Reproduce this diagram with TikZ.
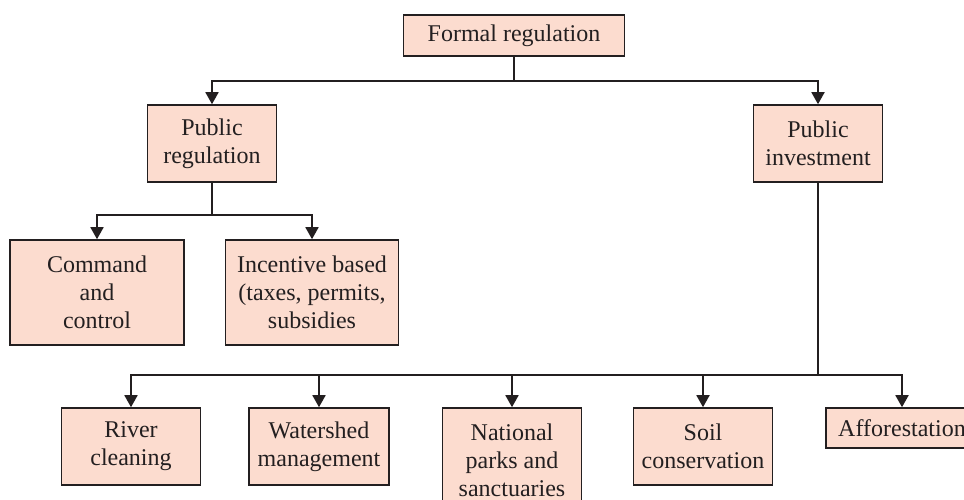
\documentclass[tikz,border=0pt]{standalone}
\usepackage{fontspec}
\setmainfont{Liberation Serif}
\usetikzlibrary{arrows.meta}
\definecolor{boxfill}{RGB}{252,220,207}
\definecolor{inkgray}{RGB}{35,31,32}

\begin{document}
\begin{tikzpicture}[x=1pt,y=-1pt,
    box/.style={draw=inkgray,fill=boxfill,line width=1.6pt,inner sep=0pt,
        align=center,text=inkgray,font=\fontsize{24}{28}\selectfont},
    link/.style={draw=inkgray,line width=1.8pt,-{Triangle[width=13pt,length=12pt]}}]
    \useasboundingbox (0,0) rectangle (964,500);

    % top level
    \node[box,minimum width=221,minimum height=41] (formal) at (514,35.5) {Formal regulation};
    \node[box,minimum width=129,minimum height=77] (pubreg) at (212,143.5) {Public\\regulation};
    \node[box,minimum width=129,minimum height=77] (pubinv) at (818,143.5) {Public\\investment};

    % regulation branch
    \node[box,minimum width=174,minimum height=105] (command)   at ( 97,292.5) {Command\\and\\control};
    \node[box,minimum width=173,minimum height=105] (incentive) at (312,292.5) {Incentive based\\(taxes, permits,\\subsidies};

    % investment branch
    \node[box,minimum width=139,minimum height=77]  (river)     at (131,446.5) {River\\cleaning};
    \node[box,minimum width=140,minimum height=77]  (watershed) at (319,446.5) {Watershed\\management};
    \node[box,minimum width=139,minimum height=105] (national)  at (512,460.5) {National\\parks and\\sanctuaries};
    \node[box,minimum width=139,minimum height=77]  (soil)      at (703,446.5) {Soil\\conservation};
    \node[box,minimum width=152,minimum height=40]  (affor)     at (902,428.0) {Afforestation};

    \coordinate (formalbus) at (formal.south |- 0,81);
    \coordinate (regbus)    at (pubreg.south |- 0,215);
    \coordinate (invbus)    at (pubinv.south |- 0,375);

    \foreach \n in {pubreg,pubinv}
        \draw[link] (formal.south) -- (formalbus) -| (\n.north);
    \foreach \n in {command,incentive}
        \draw[link] (pubreg.south) -- (regbus) -| (\n.north);
    \foreach \n in {river,watershed,national,soil,affor}
        \draw[link] (pubinv.south) -- (invbus) -| (\n.north);
\end{tikzpicture}
\end{document}
